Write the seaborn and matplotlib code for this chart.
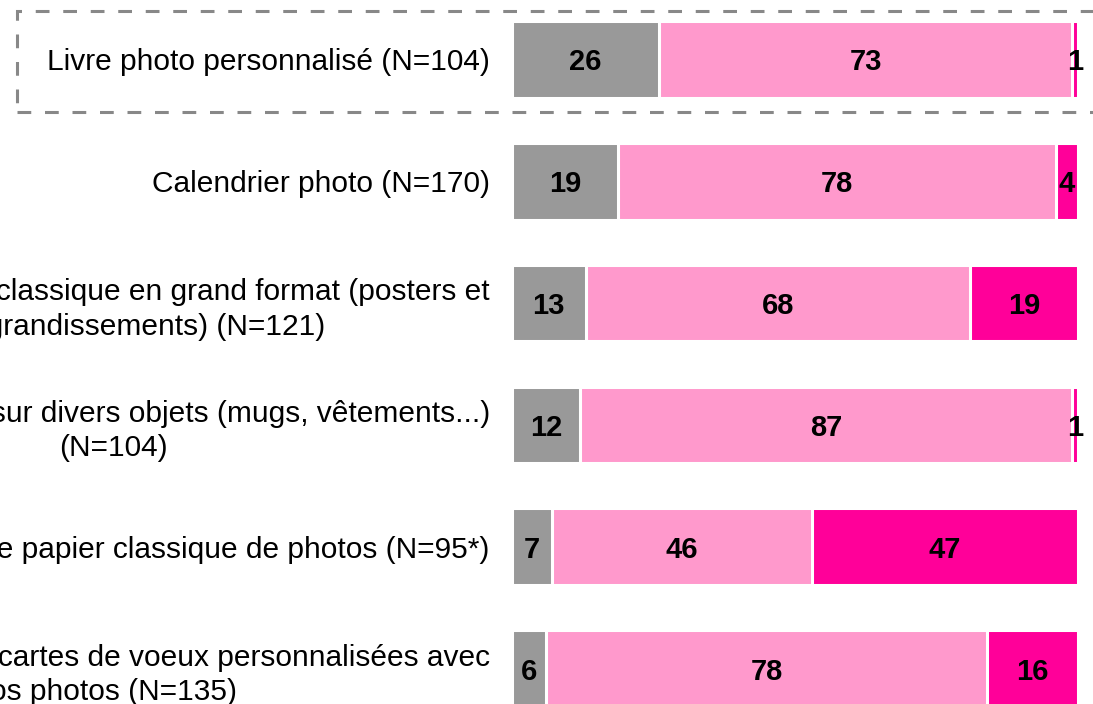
import pandas as pd
import matplotlib
matplotlib.use('Agg')
import matplotlib.pyplot as plt
import matplotlib.patches as patches
import seaborn as sns

labels = [
    "Livre photo personnalisé (N=104)",
    "Calendrier photo (N=170)",
    "Tirages photo classique en grand format (posters et\nagrandissements) (N=121)",
    "Impressions photo sur divers objets (mugs, vêtements...)\n(N=104)",
    "Tirage papier classique de photos (N=95*)",
    "Création et envoi de cartes de voeux personnalisées avec\nvos photos (N=135)",
]
gray_vals = [26, 19, 13, 12, 7, 6]
light_vals = [73, 78, 68, 87, 46, 78]
hot_vals = [1, 4, 19, 1, 47, 16]

colors = ['#999999', '#ff99cc', '#ff0099']

sns.set_style('white')
plt.rcParams['font.family'] = ['Liberation Sans', 'DejaVu Sans']

df = pd.DataFrame({'label': labels, 'gray': gray_vals, 'light': light_vals, 'hot': hot_vals})
tot = df['gray'] + df['light'] + df['hot']
df['p_gray'] = df['gray'] / tot * 100
df['p_light'] = df['light'] / tot * 100
df['p_hot'] = df['hot'] / tot * 100
df['c1'] = df['p_gray']
df['c2'] = df['p_gray'] + df['p_light']
df['c3'] = df['c2'] + df['p_hot']

W, H = 1093, 704
fig = plt.figure(figsize=(W / 100, H / 100), dpi=100)
ax = fig.add_axes([512 / W, 0, 566 / W, 1])

# stacked bars: draw cumulative totals from the back
for col, c in zip(['c3', 'c2', 'c1'], colors[::-1]):
    sns.barplot(data=df, x=col, y='label', orient='h', color=c, saturation=1,
                width=0.63, edgecolor='white', linewidth=2.2, ax=ax)

# value labels
for i, row in df.iterrows():
    starts = [0, row['c1'], row['c2']]
    widths = [row['p_gray'], row['p_light'], row['p_hot']]
    vals = [row['gray'], row['light'], row['hot']]
    for s, w, v in zip(starts, widths, vals):
        ax.text(s + w / 2, i, str(v), ha='center', va='center_baseline',
                fontsize=21, fontweight='bold', color='black', clip_on=False)

ax.set_xlim(0, 100)
spacing = (668.5 - 59.5) / 5
ax.set_ylim(5 + (H - 668.5) / spacing, -59.5 / spacing)
ax.set_xlabel('')
ax.set_ylabel('')
ax.set_xticks([])
ax.tick_params(axis='y', length=0, pad=16, labelsize=21.5, labelcolor='black')
for t in ax.get_yticklabels():
    t.set_multialignment('center')
    t.set_linespacing(1.3)
sns.despine(ax=ax, left=True, bottom=True)

# dashed highlight box around the first row
rect = patches.Rectangle((17 / W, 1 - 112 / H), 1.2, (112 - 11) / H,
                         transform=fig.transFigure, fill=False,
                         edgecolor='#888888', linewidth=2.2,
                         linestyle=(0, (4.5, 4.5)), clip_on=False)
fig.patches.append(rect)

plt.savefig('out.png', dpi=100)
